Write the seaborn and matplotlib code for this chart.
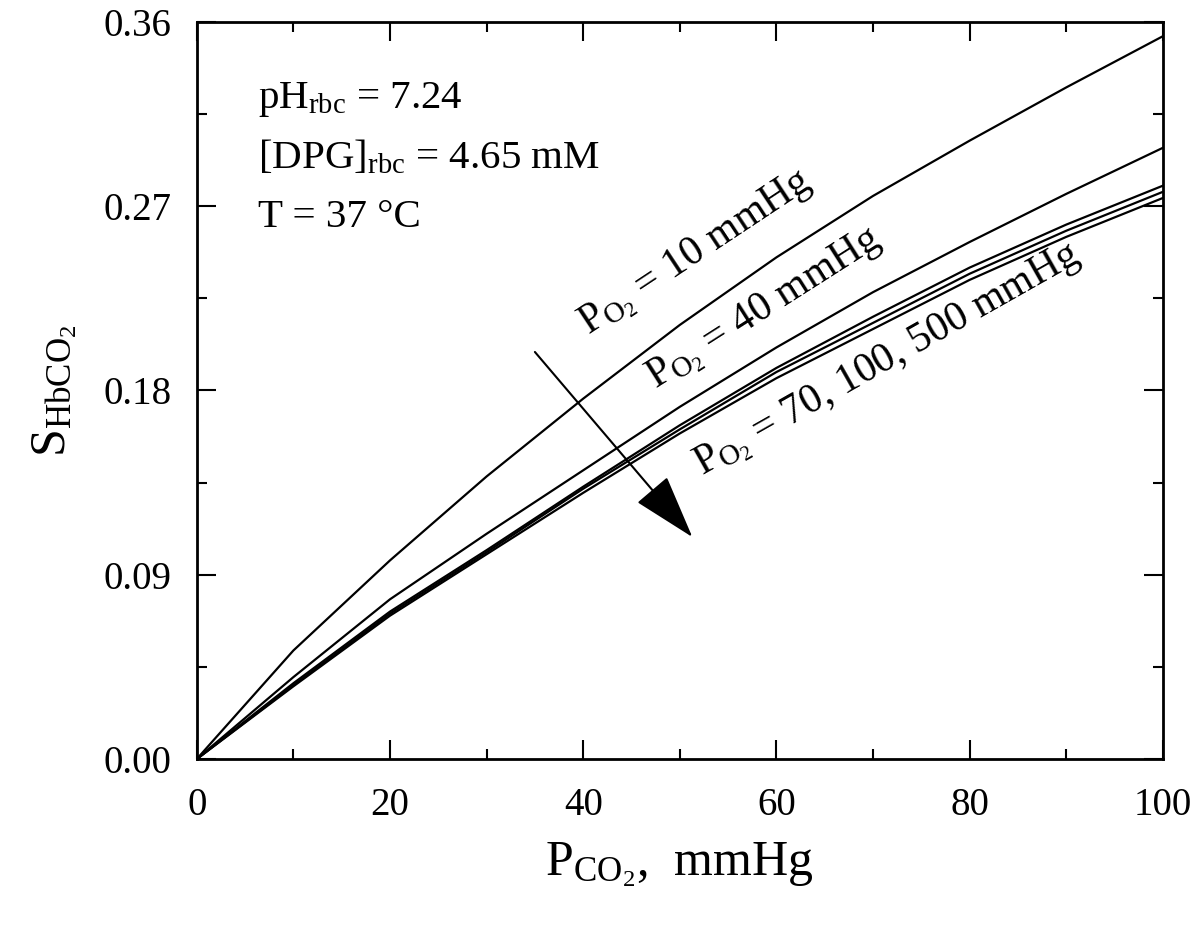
import pandas as pd
import matplotlib
matplotlib.use("Agg")
import matplotlib.pyplot as plt
import seaborn as sns
from matplotlib.ticker import MultipleLocator

# P_CO2 (mmHg) and S_HbCO2, one list per P_O2
pco2 = [0, 10, 20, 30, 40, 50, 60, 70, 80, 90, 100]
s_po2_10 = [0.0, 0.053, 0.097, 0.138, 0.176, 0.212, 0.245, 0.275, 0.302, 0.328, 0.353]
s_po2_40 = [0.0, 0.040, 0.078, 0.110, 0.141, 0.172, 0.201, 0.228, 0.2525, 0.276, 0.2985]
s_po2_70 = [0.0, 0.037, 0.072, 0.102, 0.133, 0.163, 0.191, 0.216, 0.240, 0.261, 0.280]
s_po2_100 = [0.0, 0.036, 0.071, 0.101, 0.132, 0.161, 0.189, 0.213, 0.237, 0.258, 0.277]
s_po2_500 = [0.0, 0.0355, 0.070, 0.100, 0.130, 0.159, 0.186, 0.210, 0.234, 0.255, 0.274]
po2_levels = [10, 40, 70, 100, 500]

x_ticks = [0, 20, 40, 60, 80, 100]
y_ticks = [0.00, 0.09, 0.18, 0.27, 0.36]
y_tick_labels = ["0.00", "0.09", "0.18", "0.27", "0.36"]

curve_labels = [r"P$_{\mathrm{O_2}}$ = 10 mmHg",
                r"P$_{\mathrm{O_2}}$ = 40 mmHg",
                r"P$_{\mathrm{O_2}}$ = 70, 100, 500 mmHg"]
conditions = [r"pH$_{\mathrm{rbc}}$ = 7.24",
              r"[DPG]$_{\mathrm{rbc}}$ = 4.65 mM",
              "T = 37 °C"]

sns.set_style("ticks")
plt.rcParams["font.family"] = ["Liberation Serif", "DejaVu Serif"]
plt.rcParams["mathtext.fontset"] = "custom"
plt.rcParams["mathtext.rm"] = "Liberation Serif"
plt.rcParams["mathtext.it"] = "Liberation Serif:italic"
plt.rcParams["mathtext.bf"] = "Liberation Serif:bold"
plt.rcParams["text.color"] = "black"
plt.rcParams["axes.labelcolor"] = "black"
plt.rcParams["xtick.color"] = "black"
plt.rcParams["ytick.color"] = "black"

# long-form table for seaborn
series = [s_po2_10, s_po2_40, s_po2_70, s_po2_100, s_po2_500]
frames = []
for po2, vals in zip(po2_levels, series):
    frames.append(pd.DataFrame({"pco2": pco2, "s": vals, "po2": str(po2)}))
df = pd.concat(frames, ignore_index=True)

fig = plt.figure(figsize=(12, 9.33), dpi=100)
ax = fig.add_axes([0.164, 0.1865, 0.805, 0.79])

sns.lineplot(data=df, x="pco2", y="s", hue="po2", units="po2", estimator=None,
             palette=["black"] * 5, legend=False, linewidth=1.6, ax=ax)

ax.set_xlim(0, 100)
ax.set_ylim(0, 0.36)
ax.set_xticks(x_ticks)
ax.set_yticks(y_ticks)
ax.set_yticklabels(y_tick_labels)
ax.xaxis.set_minor_locator(MultipleLocator(10))
ax.yaxis.set_minor_locator(MultipleLocator(0.045))
ax.tick_params(which="both", direction="in", top=True, right=True, width=1.5,
               color="black", labelsize=28)
ax.tick_params(which="major", length=14)
ax.tick_params(which="minor", length=7)
ax.tick_params(axis="x", pad=20)
ax.tick_params(axis="y", pad=18)
for sp in ax.spines.values():
    sp.set_linewidth(2)
    sp.set_color("black")

ax.set_xlabel(r"P$_{\mathrm{CO_2}}$,  mmHg", fontsize=36, labelpad=12)
ax.set_ylabel(r"S$_{\mathrm{HbCO_2}}$", fontsize=36, labelpad=18)

# conditions block
for txt, yy in zip(conditions, [0.318, 0.2887, 0.2599]):
    ax.text(6.3, yy, txt, fontsize=29.5, ha="left", va="baseline")

# rotated curve labels
ax.text(40.6, 0.2071, curve_labels[0], fontsize=30, rotation=33.5,
        rotation_mode="anchor", ha="left", va="baseline")
ax.text(47.5, 0.1805, curve_labels[1], fontsize=30, rotation=32.5,
        rotation_mode="anchor", ha="left", va="baseline")
ax.text(52.3, 0.1385, curve_labels[2], fontsize=30, rotation=29.5,
        rotation_mode="anchor", ha="left", va="baseline")

# arrow showing increasing P_O2
ax.annotate("", xy=(51.3, 0.1084), xytext=(35.0, 0.1988),
            arrowprops=dict(arrowstyle="-|>,head_length=1.03,head_width=0.32",
                            mutation_scale=40, lw=1.5, color="black",
                            shrinkA=0, shrinkB=0))

fig.savefig("out.png", dpi=100)
